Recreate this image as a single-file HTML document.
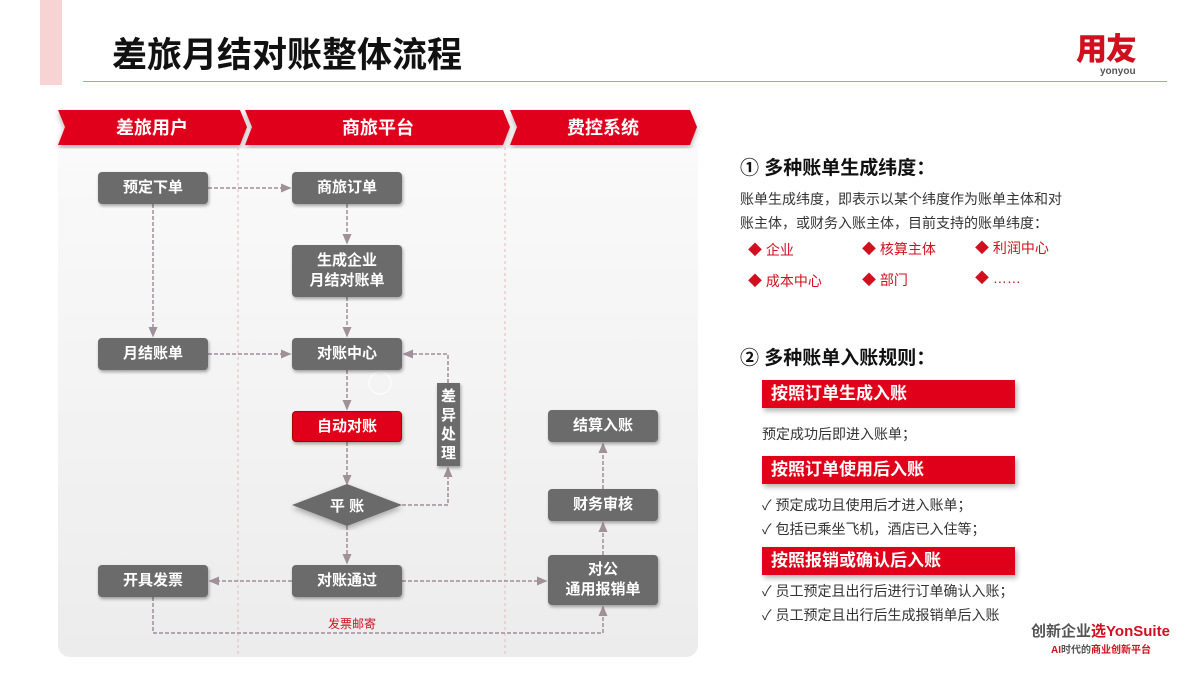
<!DOCTYPE html>
<html><head><meta charset="utf-8"><style>
*{margin:0;padding:0;box-sizing:border-box}
body{width:1200px;height:675px;background:#fff;position:relative;overflow:hidden;font-family:"Liberation Sans","Noto Sans CJK SC",sans-serif;color:#222}
.a{position:absolute;white-space:nowrap}
.box{position:absolute;background:#6b6b6b;color:#fff;font-weight:bold;font-size:15px;display:flex;align-items:center;justify-content:center;text-align:center;border-radius:4px;box-shadow:1px 2px 3px rgba(0,0,0,.35);line-height:20px}
.rb{position:absolute;left:762px;width:253px;height:28px;background:#e0001a;color:#fff;font-weight:bold;font-size:17px;padding-left:9px;line-height:28px;box-shadow:2px 3px 5px rgba(0,0,0,.3)}
.t{font-size:14px;color:#333}
.red{color:#d0101e;font-size:14px}
</style></head><body>
<div class="a" style="left:40px;top:0;width:22px;height:85px;background:#f8d3d3"></div>
<div class="a" style="left:112px;top:27px;font-size:35px;font-weight:bold;color:#111">差旅月结对账整体流程</div>
<div class="a" style="left:83px;top:81px;width:1084px;height:1px;background:#ec8a8a"></div>
<div class="a" style="left:1076px;top:33px;font-size:31px;line-height:34px;font-weight:900;color:#d0101e;letter-spacing:-1px">用友</div>
<div class="a" style="left:1100px;top:66px;font-size:10px;line-height:12px;font-weight:bold;color:#555">yonyou</div>

<div class="a" style="left:58px;top:145px;width:640px;height:512px;background:linear-gradient(#fafafa,#ececec);border-radius:0 0 12px 12px"></div>

<svg class="a" style="left:0;top:0" width="1200" height="675">
<defs><marker id="ar" markerWidth="8" markerHeight="8" refX="6" refY="4" orient="auto"><path d="M0,1 L7,4 L0,7z" fill="#a09098"/></marker>
<filter id="sh"><feDropShadow dx="0" dy="3" stdDeviation="3" flood-opacity=".3"/></filter></defs>
<g fill="#e0001a" filter="url(#sh)">
<polygon points="58,110 240,110 247,127 240,145 58,145 65,127"/>
<polygon points="245,110 503,110 510,127 503,145 245,145 252,127"/>
<polygon points="510,110 690,110 697,127 690,145 510,145 517,127"/>
</g>
<g fill="#fff" font-weight="bold" font-size="18" text-anchor="middle" font-family="Liberation Sans,Noto Sans CJK SC,sans-serif">
<text x="152" y="134">差旅用户</text><text x="378" y="134">商旅平台</text><text x="603" y="134">费控系统</text></g>
<g stroke="#e3b8bc" stroke-dasharray="3,3" stroke-width="1"><line x1="238" y1="147" x2="238" y2="657"/><line x1="505" y1="147" x2="505" y2="657"/></g>
<g stroke="#a09098" stroke-dasharray="4,2" stroke-width="1.5" fill="none" marker-end="url(#ar)">
<line x1="208" y1="188" x2="290" y2="188"/>
<line x1="347" y1="204" x2="347" y2="243"/>
<line x1="153" y1="204" x2="153" y2="336"/>
<line x1="347" y1="297" x2="347" y2="336"/>
<line x1="208" y1="354" x2="290" y2="354"/>
<line x1="347" y1="370" x2="347" y2="409"/>
<line x1="347" y1="442" x2="347" y2="484"/>
<polyline points="402,505 448,505 448,468"/>
<polyline points="448,383 448,354 404,354"/>
<line x1="347" y1="526" x2="347" y2="563"/>
<line x1="292" y1="581" x2="210" y2="581"/>
<line x1="402" y1="581" x2="546" y2="581"/>
<line x1="603" y1="555" x2="603" y2="523"/>
<line x1="603" y1="489" x2="603" y2="444"/>
<polyline points="153,597 153,633 603,633 603,607"/>
</g>
<polygon points="292,505 347,484 402,505 347,526" fill="#6b6b6b" filter="url(#sh)"/>
<text x="347" y="511" fill="#fff" font-weight="bold" font-size="15" text-anchor="middle" font-family="Liberation Sans,Noto Sans CJK SC,sans-serif">平 账</text>
<circle cx="380" cy="383" r="11" fill="none" stroke="rgba(255,255,255,.7)" stroke-width="1.5"/>
<text x="352" y="628" fill="#d0101e" font-size="12" text-anchor="middle" font-family="Liberation Sans,Noto Sans CJK SC,sans-serif">发票邮寄</text>
</svg>

<div class="box" style="left:98px;top:172px;width:110px;height:32px">预定下单</div>
<div class="box" style="left:292px;top:172px;width:110px;height:32px">商旅订单</div>
<div class="box" style="left:292px;top:245px;width:110px;height:52px">生成企业<br>月结对账单</div>
<div class="box" style="left:98px;top:338px;width:110px;height:32px">月结账单</div>
<div class="box" style="left:292px;top:338px;width:110px;height:32px">对账中心</div>
<div class="box" style="left:292px;top:411px;width:110px;height:31px;background:#e0001a;border:1px solid #a00">自动对账</div>
<div class="box" style="left:437px;top:383px;width:23px;height:83px;border-radius:0;line-height:19px">差<br>异<br>处<br>理</div>
<div class="box" style="left:98px;top:565px;width:110px;height:32px">开具发票</div>
<div class="box" style="left:292px;top:565px;width:110px;height:32px">对账通过</div>
<div class="box" style="left:548px;top:410px;width:110px;height:32px">结算入账</div>
<div class="box" style="left:548px;top:489px;width:110px;height:32px">财务审核</div>
<div class="box" style="left:548px;top:555px;width:110px;height:50px">对公<br>通用报销单</div>

<div class="a" style="left:740px;top:153px;font-size:19px;font-weight:bold;color:#111">① 多种账单生成纬度：</div>
<div class="a t" style="left:740px;top:189px">账单生成纬度，即表示以某个纬度作为账单主体和对</div>
<div class="a t" style="left:740px;top:213px">账主体，或财务入账主体，目前支持的账单纬度：</div>
<div class="a red" style="left:748px;top:240px">◆ 企业</div>
<div class="a red" style="left:862px;top:239px">◆ 核算主体</div>
<div class="a red" style="left:975px;top:238px">◆ 利润中心</div>
<div class="a red" style="left:748px;top:271px">◆ 成本中心</div>
<div class="a red" style="left:862px;top:270px">◆ 部门</div>
<div class="a red" style="left:975px;top:268px">◆ ……</div>

<div class="a" style="left:740px;top:343px;font-size:19px;font-weight:bold;color:#111">② 多种账单入账规则：</div>
<div class="rb" style="top:380px">按照订单生成入账</div>
<div class="a t" style="left:762px;top:424px">预定成功后即进入账单；</div>
<div class="rb" style="top:456px">按照订单使用后入账</div>
<div class="a t" style="left:762px;top:495px">✓ 预定成功且使用后才进入账单；</div>
<div class="a t" style="left:762px;top:519px">✓ 包括已乘坐飞机，酒店已入住等；</div>
<div class="rb" style="top:547px">按照报销或确认后入账</div>
<div class="a t" style="left:762px;top:581px">✓ 员工预定且出行后进行订单确认入账；</div>
<div class="a t" style="left:762px;top:605px">✓ 员工预定且出行后生成报销单后入账</div>

<div class="a" style="left:1031px;top:620px;font-size:15px;font-weight:bold;color:#555">创新企业<span style="color:#d0101e">选YonSuite</span></div>
<div class="a" style="left:1051px;top:641px;font-size:10px;font-weight:bold;color:#555"><span style="color:#d0101e">AI</span>时代的<span style="color:#d0101e">商业创新平台</span></div>
</body></html>
